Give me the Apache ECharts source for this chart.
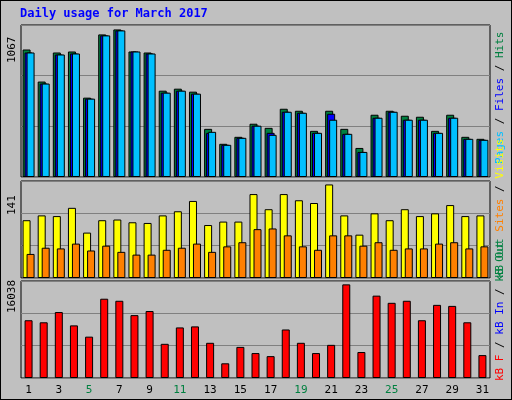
<!DOCTYPE html>
<html><head><meta charset="utf-8">
<script src="https://cdn.jsdelivr.net/npm/echarts@6/dist/echarts.min.js"></script>
<style>
html,body{margin:0;padding:0;background:#c0c0c0;}
#chart{width:510px;height:398px;border:1px solid #000;}
</style></head>
<body><div id="chart"></div>
<script>
// daily usage, March 2017
const days = ['1','2','3','4','5','6','7','8','9','10','11','12','13','14','15','16','17','18','19','20','21','22','23','24','25','26','27','28','29','30','31'];
const weekend = ['4','5','11','12','18','19','25','26'];
const hits = [895,670,874,881,557,1001,1036,881,874,606,620,599,338,233,282,374,345,479,465,324,465,338,204,437,465,430,423,324,437,282,268];
const files = [874,656,860,867,550,994,1029,881,867,592,606,585,310,226,275,360,310,458,451,310,444,303,176,416,458,402,402,310,416,268,261];
const pages = [874,656,860,867,550,994,1029,881,867,592,606,585,317,226,275,360,296,458,451,310,402,303,176,416,458,402,402,310,416,268,261];
const visits = [84,91,90,102,66,84,85,81,80,91,97,112,77,82,82,122,100,122,113,109,136,91,63,94,84,100,90,94,106,90,91];
const sites = [35,44,43,50,40,47,38,34,34,41,44,50,38,46,52,71,72,62,46,41,62,62,47,52,41,43,43,50,52,43,46];
const kbytes = [9549,9210,10905,8701,6837,13108,12769,10396,11074,5650,8362,8532,5820,2430,5142,4125,3616,8023,5820,4125,5481,15481,4294,13617,12430,12769,9549,12091,11922,9210,3786];
const maxHits = 1067, maxVisits = 141, maxKB = 16038;

const chart = echarts.init(document.getElementById('chart'));
const font = 'DejaVu Sans Mono';
const grids = [
  {left:20, right:21, top:24, height:152},
  {left:20, right:21, top:180, height:97},
  {left:20, right:21, top:280, height:97}
];
function xAx(i){
  return {type:'category', data:days, gridIndex:i,
    axisLine:{show:false}, axisTick:{show:false},
    axisLabel:{show:i===2, margin:7, fontFamily:font, fontSize:11,
      color:(v)=>weekend.includes(v)?'#008040':'#000'}};
}
function yAx(i,max){
  return {type:'value', gridIndex:i, min:0, max:max, interval:max/3,
    axisLine:{show:false}, axisTick:{show:false}, axisLabel:{show:false},
    splitLine:{show:true, lineStyle:{color:'#808080', width:1}}};
}
const bs = {borderColor:'#000', borderWidth:1};
function bar(name,data,color,i,gap){
  return {name, type:'bar', data, xAxisIndex:i, yAxisIndex:i, barWidth:8, barGap:gap,
    itemStyle:Object.assign({color}, bs), animation:false, silent:true};
}
chart.setOption({
  backgroundColor:'#c0c0c0',
  animation:false,
  grid:grids.map(g=>Object.assign({show:true, borderColor:'#000', borderWidth:1, backgroundColor:'#c0c0c0'}, g)),
  xAxis:[xAx(0),xAx(1),xAx(2)],
  yAxis:[yAx(0,maxHits),yAx(1,maxVisits),yAx(2,maxKB)],
  series:[
    bar('Hits',hits,'#008040',0,'-75%'),
    bar('Files',files,'#0000ff',0,'-75%'),
    bar('Pages',pages,'#00c0ff',0,'-75%'),
    bar('Visits',visits,'#ffff00',1,'-50%'),
    bar('Sites',sites,'#ff8000',1,'-50%'),
    bar('kB F',kbytes,'#ff0000',2,'0%')
  ],
  graphic:[
    {type:'text', left:19, top:7, style:{text:'Daily usage for March 2017', fill:'#0000ff', font:'bold 12px "DejaVu Sans Mono"'}},
    {type:'text', x:6, y:62, rotation:Math.PI/2, style:{text:'1067', fill:'#000', font:'11px "DejaVu Sans Mono"'}},
    {type:'text', x:6, y:214, rotation:Math.PI/2, style:{text:'141', fill:'#000', font:'11px "DejaVu Sans Mono"'}},
    {type:'text', x:6, y:312, rotation:Math.PI/2, style:{text:'16038', fill:'#000', font:'11px "DejaVu Sans Mono"'}},
    {type:'text', x:494, y:163, rotation:Math.PI/2, style:{
      text:'{p|Pages} / {f|Files} / {h|Hits}', fill:'#000', font:'11px "DejaVu Sans Mono"',
      rich:{p:{fill:'#00c0ff'}, f:{fill:'#0000ff'}, h:{fill:'#008040'}}}},
    {type:'text', x:494, y:277, rotation:Math.PI/2, style:{
      text:'{o|kB Out} {s|Sites} / {v|Visits}', fill:'#000', font:'11px "DejaVu Sans Mono"',
      rich:{o:{fill:'#008040'}, s:{fill:'#ff8000'}, v:{fill:'#ffff00'}}}},
    {type:'text', x:494, y:380, rotation:Math.PI/2, style:{
      text:'{f|kB F} / {i|kB In} / {o|kB Out}', fill:'#000', font:'11px "DejaVu Sans Mono"',
      rich:{f:{fill:'#ff0000'}, i:{fill:'#0000ff'}, o:{fill:'#008040'}}}}
  ]
});
</script></body></html>
